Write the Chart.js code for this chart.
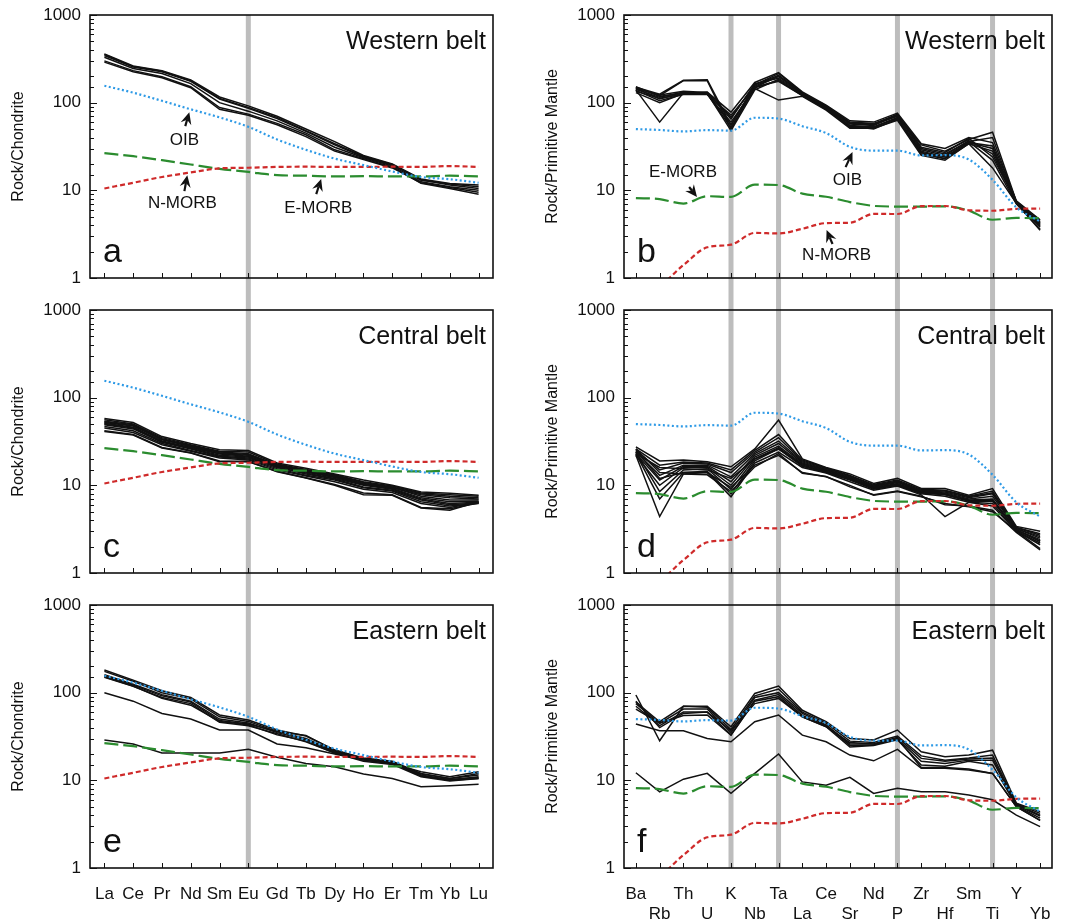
<!DOCTYPE html>
<html>
<head>
<meta charset="utf-8">
<script src="https://cdn.jsdelivr.net/npm/chart.js@4.4.0/dist/chart.umd.min.js"></script>
<style>
  body { margin: 0; background: #fff; }
  #wrap { position: relative; width: 1068px; height: 924px; }
  canvas { position: absolute; }
</style>
</head>
<body>
<div id="wrap">
  <canvas id="panelA" width="534" height="290" style="left:0;top:0"></canvas>
  <canvas id="panelB" width="534" height="290" style="left:534px;top:0"></canvas>
  <canvas id="panelC" width="534" height="295" style="left:0;top:290px"></canvas>
  <canvas id="panelD" width="534" height="295" style="left:534px;top:290px"></canvas>
  <canvas id="panelE" width="534" height="339" style="left:0;top:585px"></canvas>
  <canvas id="panelF" width="534" height="339" style="left:534px;top:585px"></canvas>
</div>
<script>
// element lists
const reeLabels = ['La', 'Ce', 'Pr', 'Nd', 'Sm', 'Eu', 'Gd', 'Tb', 'Dy', 'Ho', 'Er', 'Tm', 'Yb', 'Lu'];
const pmLabels = ['Ba', 'Rb', 'Th', 'U', 'K', 'Nb', 'Ta', 'La', 'Ce', 'Sr', 'Nd', 'P', 'Zr', 'Hf', 'Sm', 'Ti', 'Y', 'Yb'];
const reeBands = ['Eu'];
const pmBands = ['K', 'Ta', 'P', 'Ti'];

// reference basalts, chondrite normalised
const oibRee = [156, 130, 105, 84, 68, 53, 38, 29, 23, 19.4, 16.4, 14.2, 13.4, 12.2];
const nmorbRee = [10.5, 12.2, 14.2, 16, 17.8, 18.1, 18.5, 18.6, 18.5, 18.5, 18.6, 18.5, 18.9, 18.5];
const emorbRee = [26.6, 24.5, 22.1, 19.7, 17.6, 16.2, 14.9, 14.7, 14.4, 14.5, 14.4, 14.4, 14.7, 14.4];

// reference basalts, primitive mantle normalised
const oibPm = [50, 48.8, 47, 48.6, 48, 67.3, 65.9, 53.9, 45, 31.3, 28.4, 28.4, 25, 25.2, 22.5, 13.2, 6.4, 4.4];
const nmorbPm = [0.9, 0.88, 1.41, 2.24, 2.4, 3.27, 3.22, 3.64, 4.23, 4.27, 5.39, 5.37, 6.6, 6.63, 5.92, 5.85, 6.15, 6.19];
const emorbPm = [8.16, 7.94, 7.06, 8.57, 8.4, 11.6, 11.5, 9.17, 8.45, 7.35, 6.65, 6.53, 6.52, 6.57, 5.86, 4.62, 4.84, 4.81];

// samples - REE
const westernRee = [
    [360, 262, 232, 182, 116, 92, 70, 50, 36, 25, 20, 13.5, 12, 11.5],
    [355, 258, 228, 178, 112, 88, 68, 48, 34, 24.5, 19.8, 13.2, 11.5, 10.5],
    [345, 255, 225, 175, 110, 86, 66, 47, 33, 24, 19.5, 13, 11.8, 11],
    [330, 245, 215, 165, 100, 80, 62, 45, 31, 23.5, 19, 12.5, 11, 10],
    [300, 232, 198, 152, 88, 74, 58, 43, 29, 23, 18.5, 12, 10.5, 9],
    [290, 225, 192, 148, 84, 72, 56, 41, 28, 22.5, 18, 12.2, 10.8, 9.5]
];
const centralRee = [
    [58, 52, 36, 30, 25.5, 25, 18, 15.7, 13.5, 11.5, 10, 8.4, 8.1, 7.7],
    [56, 50, 35, 29, 24.5, 24, 17.5, 15.2, 13.2, 11, 9.8, 8.2, 7.8, 7.5],
    [54, 49, 34, 28.5, 24, 23, 17, 15, 13, 10.8, 9.6, 8, 7.5, 7.2],
    [53, 48, 33, 28, 23.5, 22.5, 17.2, 14.6, 12.8, 10.5, 9.4, 7.8, 7.2, 7],
    [52, 47.5, 33.5, 27.5, 23, 22, 16.8, 14.4, 12.5, 10.4, 9.5, 7.5, 6.8, 6.8],
    [51, 46, 32, 27, 22.8, 21.5, 16.5, 14.2, 12.3, 10.2, 9.2, 7.2, 6.5, 6.6],
    [50, 45, 31.5, 26.5, 22, 21, 16, 13.8, 12, 10, 9, 7, 6.2, 6.4],
    [49, 44, 31, 26, 21.5, 20.5, 16.2, 13.5, 11.8, 9.6, 8.8, 6.8, 6, 6.3],
    [47, 42, 30, 25, 21, 20, 15.5, 13, 11.5, 9.4, 8.6, 6.5, 5.8, 6.2],
    [45, 40, 29, 24.5, 20.5, 19.5, 15, 12.8, 11, 9, 8.3, 6.2, 5.6, 6.4],
    [42, 38, 27, 23.5, 19, 18.6, 14.5, 12.2, 10.2, 8.2, 7.8, 5.6, 5.4, 6.3],
    [41, 37.5, 26.6, 23.4, 18.6, 18.8, 14.3, 12.1, 10, 7.8, 7.7, 5.5, 5.2, 6.5]
];
const easternRee = [
    [181, 139, 105, 88, 55.6, 48.7, 37.5, 32, 22.2, 17.8, 16.3, 11.5, 10.1, 11],
    [175, 135, 100, 85, 53, 47, 36, 30, 21.5, 17.5, 16, 11.2, 10.2, 10.8],
    [160, 125, 95, 80, 50, 45, 35, 29, 21, 17.5, 15.8, 11.8, 10.5, 12],
    [152, 119, 86, 72, 47, 43, 33, 28, 20.5, 17, 15.5, 12.5, 11, 12.5],
    [150, 118, 88, 75, 46, 42, 34, 27.6, 20.5, 16.5, 15.2, 11, 9.8, 10.5],
    [155, 122, 92, 78, 48, 44, 36, 32.5, 22, 18, 16.5, 12, 10.5, 11.5],
    [100, 80, 58, 50, 37.5, 37.5, 26, 23.5, 20, 17, 15.6, 11.2, 10, 10.5],
    [28.8, 26, 20.5, 20.5, 20.5, 22.6, 18.3, 15.6, 14.3, 11.8, 10.5, 8.45, 8.7, 9]
];

// samples - spider diagrams
const westernPm = [
    [150, 125, 180, 182, 55, 160, 215, 130, 92, 60, 58, 72, 33, 28, 38, 46, 7.5, 4.4],
    [148, 120, 178, 178, 50, 150, 200, 128, 90, 58, 56, 70, 30, 26, 36, 40, 7.3, 4.2],
    [140, 60, 130, 128, 48, 140, 185, 122, 88, 55, 53, 66, 28, 24, 35, 30, 7.2, 3.8],
    [145, 110, 130, 130, 65, 165, 190, 125, 86, 52, 52, 68, 26, 23, 34, 28, 7.4, 4.1],
    [138, 105, 125, 125, 72, 150, 175, 120, 84, 54, 50, 65, 27, 23, 36, 22, 7, 3.6],
    [152, 118, 128, 132, 78, 170, 220, 133, 94, 62, 60, 76, 34, 30, 40, 35, 7.6, 4.6],
    [135, 112, 125, 124, 60, 145, 107, 118, 82, 51, 51, 63, 25, 22, 34, 18, 7.1, 3.5],
    [142, 115, 132, 127, 56, 155, 200, 127, 90, 57, 55, 72, 29, 25, 37, 26, 7.3, 4],
    [130, 100, 127, 126, 52, 148, 180, 120, 85, 53, 53, 67, 27, 24, 35, 32, 7.2, 3.9],
    [146, 122, 135, 131, 68, 160, 205, 129, 91, 59, 57, 74, 31, 27, 39, 24, 7.4, 4.3]
];
const centralPm = [
    [27.5, 19, 19.4, 18.6, 16.3, 26, 55.6, 20, 16, 13.5, 10.5, 12, 9.2, 9.2, 7.7, 9.2, 3.4, 3],
    [26, 17, 18.5, 18, 15, 25, 38, 19.5, 15.8, 13, 10.2, 11.5, 9, 8.8, 7.5, 8.6, 3.3, 2.8],
    [25, 15, 18, 17.5, 14, 24, 35, 19, 15.5, 12.8, 10, 11.2, 8.8, 8.6, 7.4, 8.2, 3.3, 2.7],
    [24, 13, 17, 17, 12.5, 23, 32, 18.5, 15.2, 12.5, 9.8, 11, 8.6, 8.4, 7.2, 8, 3.2, 2.6],
    [23, 11.5, 16.5, 16.5, 11, 22, 30, 18, 15, 12.2, 9.6, 10.8, 8.5, 8.2, 7, 7.5, 3.2, 2.5],
    [22, 10, 16, 16, 10, 21, 28, 17.5, 14.8, 12, 9.4, 10.5, 8.4, 8, 6.8, 7, 3.1, 2.4],
    [24, 8.5, 15, 15.5, 9, 20, 27, 17, 14.5, 11.8, 9.2, 10.2, 8.2, 7.8, 6.6, 6.6, 3.1, 2.3],
    [23, 7, 14, 14.5, 8, 19, 26, 16.5, 14, 11.5, 9, 10, 8, 7.5, 6.4, 6.2, 3, 2.2],
    [22, 4.4, 13.5, 14, 7.4, 18, 24, 16, 13.8, 11, 8.8, 9.8, 7.8, 4.4, 6.4, 5.8, 3, 2.1],
    [25, 12, 14, 14, 9.5, 17, 22, 14, 12.5, 10, 7.7, 8.5, 7.4, 6.2, 5.7, 5, 3, 1.9],
    [26, 14, 13.5, 13.2, 8.5, 16.3, 23, 13.7, 12.6, 9.6, 7.8, 8.6, 7.5, 6, 5.8, 5.2, 2.9, 1.83],
    [23, 16, 15.5, 15, 12, 20, 26, 17, 14.2, 11.7, 9.3, 10.3, 8.3, 7.9, 6.7, 6.8, 3.1, 2.3]
];
const easternPm = [
    [94, 28.3, 70, 70, 40.8, 98, 119, 63, 46.6, 30, 28.8, 37.5, 21.2, 18.6, 19.4, 22.1, 5.5, 4.4],
    [78, 46.6, 70, 68, 38, 92, 110, 60, 45, 28, 27, 32, 19, 17, 18, 19.4, 5.4, 4.2],
    [75, 44.7, 65, 65, 35, 88, 100, 58, 43, 26, 26, 31, 17.8, 16.5, 17.5, 18, 5.3, 4],
    [70, 42, 60, 60, 33, 82, 95, 55, 42, 25, 25.3, 30, 16.5, 15.6, 17, 17, 5.2, 3.9],
    [65, 45, 55, 55.6, 32.8, 80, 90, 53, 40.8, 24, 25, 29, 15, 14.5, 16.5, 15, 5.1, 3.7],
    [80, 40, 58, 60, 37, 75, 86, 53, 41, 27, 26, 30, 14, 14, 13.5, 12, 5, 3.5],
    [44, 36.8, 36.8, 30, 27.5, 46.6, 55.6, 32.8, 27.5, 19.4, 16.7, 22.6, 13.7, 13.7, 13.1, 12, 5, 3.5],
    [12.2, 7.4, 10.3, 12, 7.1, 12, 20, 9.6, 8.8, 10.8, 7.1, 8.1, 7.4, 7.4, 6.8, 6, 4, 2.96]
];

// labelled arrows, given as [element index, value]
const notesA = [
    { text: 'OIB', at: [2.78, 37], tail: [2.81, 54], tip: [2.95, 78] },
    { text: 'N-MORB', at: [2.71, 7.2], tail: [2.78, 9.8], tip: [2.88, 14.9] },
    { text: 'E-MORB', at: [7.43, 6.3], tail: [7.36, 9.06], tip: [7.53, 13.5] }
];
const notesB = [
    { text: 'E-MORB', at: [1.98, 16.2], tail: [2.24, 10.9], tip: [2.57, 8.4] },
    { text: 'OIB', at: [8.9, 13.1], tail: [8.82, 18.4], tip: [9.11, 27.3] },
    { text: 'N-MORB', at: [8.44, 1.83], tail: [8.27, 2.44], tip: [8.02, 3.53] }
];

const FONT = '"Liberation Sans", Arial, sans-serif';
Chart.defaults.font.family = FONT;
Chart.defaults.font.size = 17;
Chart.defaults.color = '#111';

// rows of the grid: top padding and x axis height
const rows = [
    { padTop: 15, axisH: 12 },
    { padTop: 20, axisH: 12 },
    { padTop: 20, axisH: 56 }
];

function isDecade(v) {
    const lg = Math.log10(v);
    return Math.abs(lg - Math.round(lg)) < 1e-6;
}

function drawArrow(ctx, x1, y1, x2, y2) {
    const ang = Math.atan2(y2 - y1, x2 - x1);
    const head = 12, half = 5.5;
    ctx.beginPath();
    ctx.moveTo(x1, y1);
    ctx.lineTo(x2 - 8 * Math.cos(ang), y2 - 8 * Math.sin(ang));
    ctx.stroke();
    ctx.beginPath();
    ctx.moveTo(x2, y2);
    ctx.lineTo(x2 - head * Math.cos(ang) + half * Math.sin(ang), y2 - head * Math.sin(ang) - half * Math.cos(ang));
    ctx.lineTo(x2 - 8 * Math.cos(ang), y2 - 8 * Math.sin(ang));
    ctx.lineTo(x2 - head * Math.cos(ang) - half * Math.sin(ang), y2 - head * Math.sin(ang) + half * Math.cos(ang));
    ctx.closePath();
    ctx.fill();
}

// gray element bands, frame, inward ticks, title, letter and arrows
function decorPlugin(panel) {
    return {
        id: 'decor',
        beforeDatasetsDraw(chart) {
            const ctx = chart.ctx, area = chart.chartArea, xs = chart.scales.x;
            const top = panel.row === 0 ? area.top : 0;
            const bottom = panel.row === 2 ? area.bottom : chart.height;
            ctx.save();
            ctx.fillStyle = '#bdbdbd';
            panel.bands.forEach(function (name) {
                const px = xs.getPixelForValue(panel.labels.indexOf(name));
                ctx.fillRect(px - 2.5, top, 5, bottom - top);
            });
            ctx.restore();
        },
        afterDraw(chart) {
            const ctx = chart.ctx, area = chart.chartArea;
            const xs = chart.scales.x, ys = chart.scales.y;
            ctx.save();
            ctx.strokeStyle = '#111';
            ctx.fillStyle = '#111';
            ctx.lineWidth = 1;
            ys.ticks.forEach(function (t) {
                const py = Math.round(ys.getPixelForValue(t.value)) + 0.5;
                ctx.beginPath();
                ctx.moveTo(area.left, py);
                ctx.lineTo(area.left + (isDecade(t.value) ? 7 : 4), py);
                ctx.stroke();
            });
            panel.labels.forEach(function (l, i) {
                const px = Math.round(xs.getPixelForValue(i)) + 0.5;
                ctx.beginPath();
                ctx.moveTo(px, area.bottom);
                ctx.lineTo(px, area.bottom - 5);
                ctx.stroke();
            });
            ctx.lineWidth = 1.6;
            ctx.strokeRect(area.left, area.top, area.right - area.left, area.bottom - area.top);

            ctx.font = '25px ' + FONT;
            ctx.textAlign = 'right';
            ctx.textBaseline = 'middle';
            ctx.fillText(panel.title, area.right - 7, area.top + 27);

            ctx.font = '34px ' + FONT;
            ctx.textAlign = 'left';
            ctx.textBaseline = 'alphabetic';
            ctx.fillText(panel.letter, area.left + 13, area.bottom - 16);

            ctx.font = '17px ' + FONT;
            ctx.textAlign = 'center';
            ctx.textBaseline = 'middle';
            ctx.lineWidth = 2.2;
            (panel.notes || []).forEach(function (n) {
                const px = function (p) { return xs.getPixelForValue(p[0]); };
                const py = function (p) { return ys.getPixelForValue(p[1]); };
                ctx.fillText(n.text, px(n.at), py(n.at));
                drawArrow(ctx, px(n.tail), py(n.tail), px(n.tip), py(n.tip));
            });
            ctx.restore();
        }
    };
}

function getDatasets(oib, nmorb, emorb, samples) {
    // reference curves first so they sit on top of the samples
    const refs = [
        { data: oib, borderColor: '#2e9ae6', borderDash: [2, 2.5], borderWidth: 2.2, cubicInterpolationMode: 'monotone' },
        { data: nmorb, borderColor: '#cf2a2a', borderDash: [5, 3], borderWidth: 2.2, cubicInterpolationMode: 'monotone' },
        { data: emorb, borderColor: '#2b8c2f', borderDash: [14, 5], borderWidth: 2.2, cubicInterpolationMode: 'monotone' }
    ];
    const lines = samples.map(function (d) {
        return { data: d, borderColor: '#111', borderWidth: 1.5 };
    });
    return refs.concat(lines);
}

function getOptions(panel) {
    const row = rows[panel.row];
    const spider = panel.labels === pmLabels;
    return {
        responsive: false,
        animation: false,
        devicePixelRatio: 1,
        layout: { padding: { left: 0, right: panel.col === 0 ? 41 : 16, top: row.padTop, bottom: 0 } },
        elements: { point: { radius: 0 }, line: { tension: 0 } },
        plugins: { legend: { display: false }, tooltip: { enabled: false } },
        scales: {
            x: {
                type: 'category',
                offset: true,
                grid: { display: false, drawTicks: false },
                border: { display: false },
                afterFit: function (scale) {
                    scale.height = row.axisH;
                    scale.paddingLeft = 0;
                    scale.paddingRight = 0;
                },
                ticks: {
                    display: panel.row === 2,
                    autoSkip: false,
                    maxRotation: 0,
                    padding: 16,
                    font: { size: 17 },
                    callback: function (v, i) {
                        const name = panel.labels[i];
                        return spider && i % 2 ? ['', name] : name;
                    }
                }
            },
            y: {
                type: 'logarithmic',
                min: 1,
                max: 1000,
                grid: { display: false, drawTicks: false },
                border: { display: false },
                afterFit: function (scale) {
                    // keep the plot box where the layout puts it
                    scale.width = 90;
                    scale.paddingTop = 0;
                    scale.paddingBottom = 0;
                },
                title: {
                    display: true,
                    text: panel.yTitle,
                    font: { size: 16 },
                    padding: { top: 9, bottom: 0 }
                },
                ticks: {
                    autoSkip: false,
                    padding: 9,
                    font: { size: 17 },
                    callback: function (value) {
                        return isDecade(value) ? String(Math.round(value)) : '';
                    }
                }
            }
        }
    };
}

function makePanel(id, panel, oib, nmorb, emorb, samples) {
    return new Chart(document.getElementById(id), {
        type: 'line',
        data: {
            labels: panel.labels,
            datasets: getDatasets(oib, nmorb, emorb, samples)
        },
        options: getOptions(panel),
        plugins: [decorPlugin(panel)]
    });
}

makePanel('panelA', { row: 0, col: 0, labels: reeLabels, bands: reeBands, title: 'Western belt', letter: 'a', yTitle: 'Rock/Chondrite', notes: notesA },
    oibRee, nmorbRee, emorbRee, westernRee);
makePanel('panelB', { row: 0, col: 1, labels: pmLabels, bands: pmBands, title: 'Western belt', letter: 'b', yTitle: 'Rock/Primitive Mantle', notes: notesB },
    oibPm, nmorbPm, emorbPm, westernPm);
makePanel('panelC', { row: 1, col: 0, labels: reeLabels, bands: reeBands, title: 'Central belt', letter: 'c', yTitle: 'Rock/Chondrite' },
    oibRee, nmorbRee, emorbRee, centralRee);
makePanel('panelD', { row: 1, col: 1, labels: pmLabels, bands: pmBands, title: 'Central belt', letter: 'd', yTitle: 'Rock/Primitive Mantle' },
    oibPm, nmorbPm, emorbPm, centralPm);
makePanel('panelE', { row: 2, col: 0, labels: reeLabels, bands: reeBands, title: 'Eastern belt', letter: 'e', yTitle: 'Rock/Chondrite' },
    oibRee, nmorbRee, emorbRee, easternRee);
makePanel('panelF', { row: 2, col: 1, labels: pmLabels, bands: pmBands, title: 'Eastern belt', letter: 'f', yTitle: 'Rock/Primitive Mantle' },
    oibPm, nmorbPm, emorbPm, easternPm);
</script>
</body>
</html>
